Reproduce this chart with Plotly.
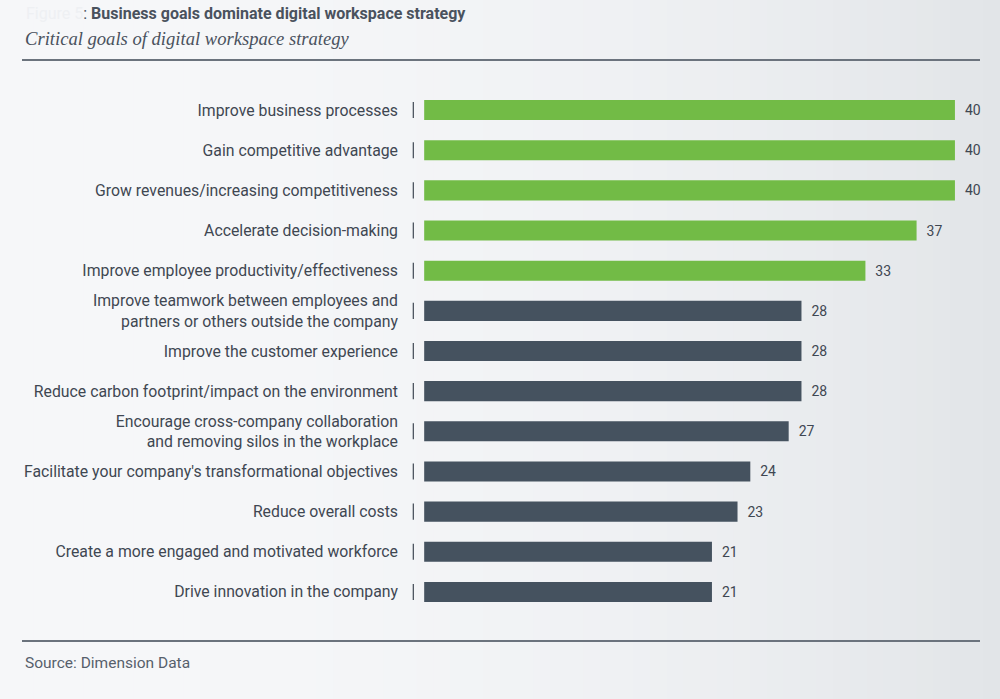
import plotly.graph_objects as go

categories = [
    "Improve business processes",
    "Gain competitive advantage",
    "Grow revenues/increasing competitiveness",
    "Accelerate decision-making",
    "Improve employee productivity/effectiveness",
    "Improve teamwork between employees and<br>partners or others outside the company",
    "Improve the customer experience",
    "Reduce carbon footprint/impact on the environment",
    "Encourage cross-company collaboration<br>and removing silos in the workplace",
    "Facilitate your company's transformational objectives",
    "Reduce overall costs",
    "Create a more engaged and motivated workforce",
    "Drive innovation in the company",
]
values = [40, 40, 40, 37, 33, 28, 28, 28, 27, 24, 23, 21, 21]
highlight = [True, True, True, True, True, False, False, False, False, False, False, False, False]

GREEN = "#72bb46"
DARK = "#45525f"
TEXT = "#3f4752"
FONT = "Roboto"
BASE = -1.5

colors = [GREEN if h else DARK for h in highlight]

fig = go.Figure()
fig.add_trace(go.Bar(
    y=categories,
    x=[v - BASE for v in values],
    base=BASE,
    orientation="h",
    marker=dict(color=colors, line=dict(width=0)),
    width=0.5,
    text=[f"  {v}" for v in values],
    textposition="outside",
    textfont=dict(family=FONT, size=14, color=TEXT),
    cliponaxis=False,
    hoverinfo="skip",
))

ML, MR, MT, MB = 405, 15, 90, 87
W = 1000 - ML - MR
H = 699 - MT - MB
def px(x):
    return (x - ML) / W
def py(y):
    return (699 - MB - y) / H

shapes = []
# background gradient (decorative), left light to right grayer
N = 60
def lerp(a, b, t):
    return int(round(a + (b - a) * t))
c0 = (0xf6, 0xf7, 0xf9)
c1 = (0xe2, 0xe5, 0xe8)
for k in range(N):
    t = (k / (N - 1)) ** 2.2
    col = "rgb(%d,%d,%d)" % tuple(lerp(c0[j], c1[j], t) for j in range(3))
    shapes.append(dict(type="rect", xref="paper", yref="paper", layer="below",
                       x0=px(1000 * k / N), x1=px(1000 * (k + 1) / N + 1), y0=py(700), y1=py(-1),
                       fillcolor=col, line=dict(width=0)))

# vertical tick marks next to labels
for i, c in enumerate(categories):
    shapes.append(dict(type="line", xref="x", yref="y",
                       x0=-2.35, x1=-2.35, y0=i - 0.2, y1=i + 0.2,
                       line=dict(color=TEXT, width=1.2)))

shapes.append(dict(type="line", xref="paper", yref="paper", x0=px(22), x1=px(980), y0=py(60), y1=py(60),
                   line=dict(color="#6b737d", width=2)))
shapes.append(dict(type="line", xref="paper", yref="paper", x0=px(22), x1=px(980), y0=py(641), y1=py(641),
                   line=dict(color="#6b737d", width=2)))

fig.update_layout(
    width=1000, height=699,
    margin=dict(l=ML, r=MR, t=MT, b=MB),
    paper_bgcolor="#f1f2f5",
    plot_bgcolor="rgba(0,0,0,0)",
    showlegend=False,
    bargap=0.5,
    font=dict(family=FONT, color=TEXT),
    xaxis=dict(range=[-3, 42.35], showgrid=False, zeroline=False, showticklabels=False,
               showline=False, fixedrange=True),
    yaxis=dict(autorange="reversed", showgrid=False, zeroline=False, showline=False,
               ticks="", tickfont=dict(family=FONT, size=15.8, color=TEXT),
               ticklabelstandoff=6),
    shapes=shapes,
)

fig.add_annotation(xref="paper", yref="paper", x=px(24), y=py(13), xanchor="left", yanchor="middle",
                   showarrow=False,
                   text="<span style='color:#eef0f3'>Figure 5</span>: <b>Business goals dominate digital workspace strategy</b>",
                   font=dict(family=FONT, size=16, color="#4a525e"))
fig.add_annotation(xref="paper", yref="paper", x=px(23), y=py(38), xanchor="left", yanchor="middle",
                   showarrow=False,
                   text="<i>Critical goals of digital workspace strategy</i>",
                   font=dict(family="Liberation Serif", size=18.6, color="#4a525e"))
fig.add_annotation(xref="paper", yref="paper", x=px(23), y=py(663), xanchor="left", yanchor="middle",
                   showarrow=False,
                   text="Source: Dimension Data",
                   font=dict(family=FONT, size=15.5, color="#56606c"))

fig.write_html("out.html")
